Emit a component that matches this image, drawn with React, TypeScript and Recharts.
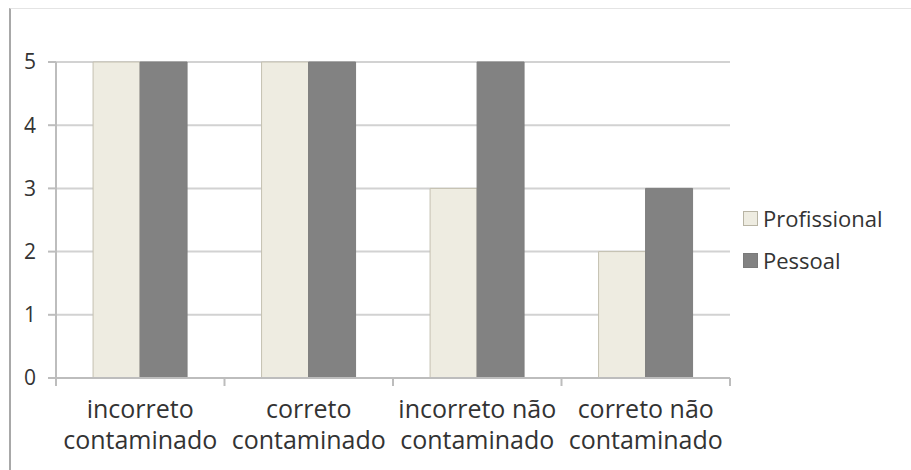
import React from "react";
import { BarChart, Bar, XAxis, YAxis, CartesianGrid } from "recharts";

const categories = [
  "incorreto contaminado",
  "correto contaminado",
  "incorreto não contaminado",
  "correto não contaminado",
];
const categoryLines = [
  ["incorreto", "contaminado"],
  ["correto", "contaminado"],
  ["incorreto não", "contaminado"],
  ["correto não", "contaminado"],
];
const profissional = [5, 5, 3, 2];
const pessoal = [5, 5, 5, 3];
const yTicks = [0, 1, 2, 3, 4, 5];

const seriesNames = { profissional: "Profissional", pessoal: "Pessoal" };
const colors = {
  profissional: "#EEECE1",
  profissionalStroke: "#C4C0B0",
  pessoal: "#828282",
  pessoalStroke: "#7E7E7E",
  grid: "#D2D2D2",
  axis: "#BDBDBD",
  text: "#333333",
};

const data = categories.map((name, i) => ({
  name,
  profissional: profissional[i],
  pessoal: pessoal[i],
}));

const FONT = "'Open Sans', sans-serif";

const XTick = (props: any) => {
  const { x, y, payload, index } = props;
  const half = payload && payload.offset ? payload.offset : 84;
  const lines = categoryLines[index] || [String(payload.value)];
  return (
    <g>
      <line x1={x + half} y1={y - 8} x2={x + half} y2={y} stroke={colors.axis} strokeWidth={2} />
      {index === 0 && (
        <line x1={x - half} y1={y - 8} x2={x - half} y2={y} stroke={colors.axis} strokeWidth={2} />
      )}
      {lines.map((t: string, i: number) => (
        <text
          key={i}
          x={x}
          y={y + 32 + i * 31}
          textAnchor="middle"
          fontSize={25}
          fontFamily={FONT}
          fill={colors.text}
        >
          {t}
        </text>
      ))}
    </g>
  );
};

const legendItems = [
  { label: seriesNames.profissional, fill: colors.profissional, stroke: "#B8B4A4" },
  { label: seriesNames.pessoal, fill: colors.pessoal, stroke: "#7A7A7A" },
];

const LegendBox = () => (
  <div
    style={{
      position: "absolute",
      left: 743,
      top: 197,
      fontFamily: FONT,
      fontSize: 22,
      color: colors.text,
    }}
  >
    {legendItems.map((it) => (
      <div key={it.label} style={{ display: "flex", alignItems: "center", height: 42 }}>
        <span
          style={{
            display: "inline-block",
            width: 13,
            height: 13,
            background: it.fill,
            border: `1px solid ${it.stroke}`,
            marginRight: 5,
          }}
        />
        <span>{it.label}</span>
      </div>
    ))}
  </div>
);

export default function App() {
  return (
    <div
      style={{
        position: "absolute",
        left: 0,
        top: 0,
        width: 911,
        height: 470,
        background: "#fff",
      }}
    >
      <div
        style={{
          position: "absolute",
          left: 9,
          top: 8,
          width: 902,
          height: 462,
          borderLeft: "2px solid #A8A8A8",
          borderTop: "1px solid #E4E4E4",
        }}
      />
      <BarChart
        width={911}
        height={470}
        data={data}
        margin={{ top: 62, right: 181, bottom: 0, left: 0 }}
        barCategoryGap="22%"
        barGap={0}
        style={{ position: "absolute", left: 0, top: 0 }}
      >
        <CartesianGrid vertical={false} stroke={colors.grid} strokeWidth={2} />
        <XAxis
          dataKey="name"
          tickLine={false}
          axisLine={{ stroke: colors.axis, strokeWidth: 2 }}
          tick={<XTick />}
          interval={0}
          height={92}
        />
        <YAxis
          domain={[0, 5]}
          ticks={yTicks}
          width={56}
          tickSize={8}
          tickLine={{ stroke: colors.axis, strokeWidth: 2 }}
          axisLine={{ stroke: colors.axis, strokeWidth: 2 }}
          tick={{ fontSize: 21, fontFamily: FONT, fill: colors.text, dx: -10 }}
        />
        <Bar
          dataKey="profissional"
          name={seriesNames.profissional}
          fill={colors.profissional}
          stroke={colors.profissionalStroke}
          isAnimationActive={false}
        />
        <Bar
          dataKey="pessoal"
          name={seriesNames.pessoal}
          fill={colors.pessoal}
          stroke={colors.pessoalStroke}
          isAnimationActive={false}
        />
      </BarChart>
      <LegendBox />
    </div>
  );
}
